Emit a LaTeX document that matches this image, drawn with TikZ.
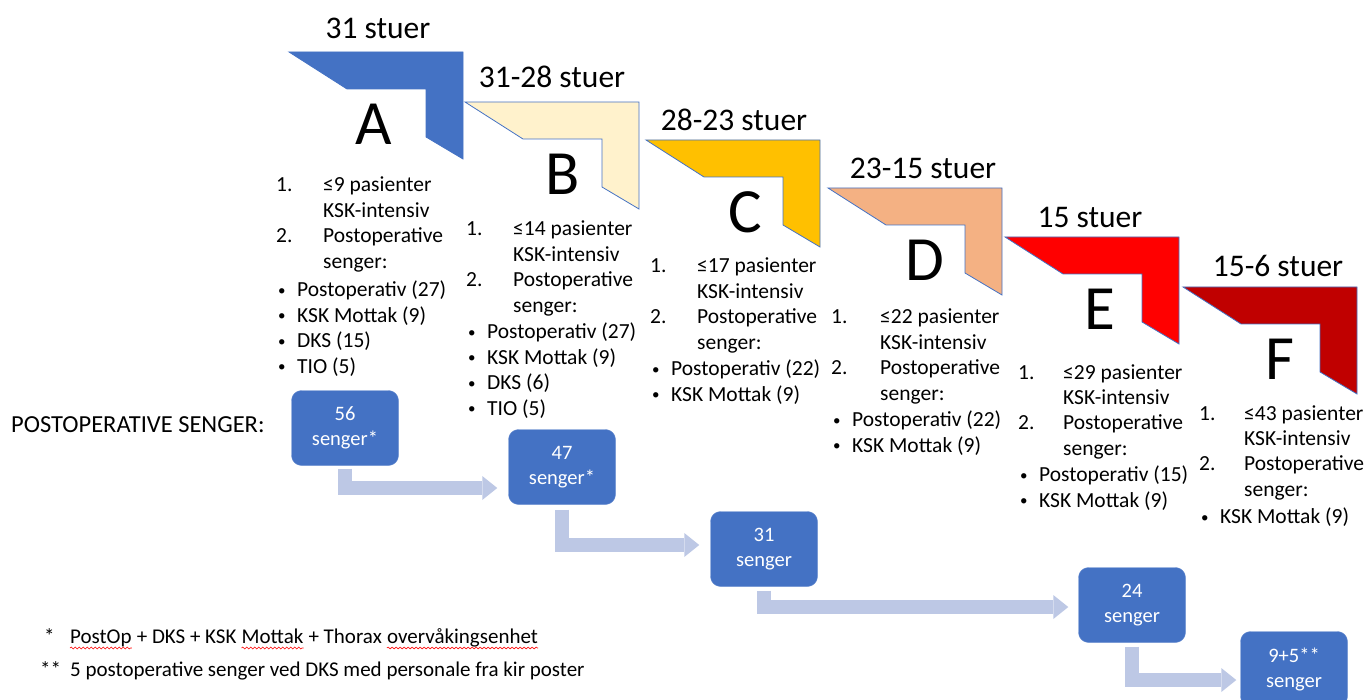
\documentclass[tikz,border=0pt]{standalone}
\usepackage{fontspec}
\setmainfont{Carlito}
\usepackage{array}
\usetikzlibrary{arrows.meta, positioning, calc, decorations.pathmorphing}

\definecolor{levelA}{HTML}{4472C4}
\definecolor{levelB}{HTML}{FFF2CC}
\definecolor{levelC}{HTML}{FFC000}
\definecolor{levelD}{HTML}{F4B183}
\definecolor{levelE}{HTML}{FF0000}
\definecolor{levelF}{HTML}{C00000}
\definecolor{bedblue}{HTML}{4472C4}
\definecolor{flowgray}{HTML}{BDC8E5}

\newcommand{\bulletpt}{\makebox[21pt][l]{\hspace{2pt}\raisebox{1.5pt}{\fontsize{15}{15}\selectfont\textbullet}}}

\tikzset{
  chevron/.style={draw=levelA, line width=0.8pt, line join=miter},
  stagetitle/.style={font=\fontsize{31.5}{36}\selectfont, inner sep=0pt},
  bigletter/.style={font=\fontsize{63}{70}\selectfont, inner sep=0pt},
  listtext/.style={anchor=base west, inner sep=0pt, font=\fontsize{21.5}{25.5}\selectfont},
  bedbox/.style={fill=bedblue, draw=bedblue!80!white, rounded corners=10pt,
    minimum width=107pt, minimum height=75pt, inner sep=0pt,
    text=white, align=center, font=\fontsize{20.5}{25}\selectfont},
  flow/.style={draw=flowgray, line width=14pt, line join=miter,
    -{Triangle[length=15pt, width=24pt, line width=0pt]}},
  note/.style={anchor=base west, inner sep=0pt, font=\fontsize{21}{24}\selectfont},
  spellline/.style={red, line width=0.6pt, decorate,
    decoration={snake, amplitude=0.9pt, segment length=4pt}},
}

\begin{document}
\begin{tikzpicture}[x=1pt, y=-1pt]
  \useasboundingbox (0,0) rectangle (1365,700);

  % ---------- Stages A-F ----------
  \foreach \n/\x/\y/\tx/\ty/\lx/\title in {A/289/52/378/28/374/31 stuer,
      B/465/102/552/77/563/31-28 stuer, C/646/140/734/120/745/28-23 stuer,
      D/828/188/923/168/925/23-15 stuer, E/1005/237/1090/217/1100/15 stuer,
      F/1183/287/1278/266/1280/15-6 stuer} {
    \draw[chevron, fill=level\n] (\x,\y) -- ++(174,0) -- ++(0,107) -- ++(-37,-22)
      -- ++(0,-48) -- ++(-79,0) -- cycle;
    \node[stagetitle] (title\n) at (\tx,\ty) {\title};
    \node[bigletter] (letter\n) at (\lx,\y+72) {\n};
  }

  % ---------- Stage lists ----------
  \node[listtext] (listA) at (276,192) {\begin{tabular}[t]{@{}p{47pt}@{}l@{}}
    1. & ≤9 pasienter\\ & KSK-intensiv\\ 2. & Postoperative\\ & senger:\\[3pt]
    \multicolumn{2}{@{}l@{}}{\bulletpt Postoperativ (27)}\\
    \multicolumn{2}{@{}l@{}}{\bulletpt KSK Mottak (9)}\\
    \multicolumn{2}{@{}l@{}}{\bulletpt DKS (15)}\\
    \multicolumn{2}{@{}l@{}}{\bulletpt TIO (5)}
  \end{tabular}};
  \node[listtext] (listB) at (466,236) {\begin{tabular}[t]{@{}p{47pt}@{}l@{}}
    1. & ≤14 pasienter\\ & KSK-intensiv\\ 2. & Postoperative\\ & senger:\\[1pt]
    \multicolumn{2}{@{}l@{}}{\bulletpt Postoperativ (27)}\\
    \multicolumn{2}{@{}l@{}}{\bulletpt KSK Mottak (9)}\\
    \multicolumn{2}{@{}l@{}}{\bulletpt DKS (6)}\\
    \multicolumn{2}{@{}l@{}}{\bulletpt TIO (5)}
  \end{tabular}};
  \node[listtext] (listC) at (650,273) {\begin{tabular}[t]{@{}p{47pt}@{}l@{}}
    1. & ≤17 pasienter\\ & KSK-intensiv\\ 2. & Postoperative\\ & senger:\\[1pt]
    \multicolumn{2}{@{}l@{}}{\bulletpt Postoperativ (22)}\\
    \multicolumn{2}{@{}l@{}}{\bulletpt KSK Mottak (9)}
  \end{tabular}};
  \node[listtext] (listD) at (831,324) {\begin{tabular}[t]{@{}p{49pt}@{}l@{}}
    1. & ≤22 pasienter\\ & KSK-intensiv\\ 2. & Postoperative\\ & senger:\\[1pt]
    \multicolumn{2}{@{}l@{}}{\bulletpt Postoperativ (22)}\\
    \multicolumn{2}{@{}l@{}}{\bulletpt KSK Mottak (9)}
  \end{tabular}};
  \node[listtext] (listE) at (1018,379) {\begin{tabular}[t]{@{}p{45pt}@{}l@{}}
    1. & ≤29 pasienter\\ & KSK-intensiv\\ 2. & Postoperative\\ & senger:\\[1pt]
    \multicolumn{2}{@{}l@{}}{\bulletpt Postoperativ (15)}\\
    \multicolumn{2}{@{}l@{}}{\bulletpt KSK Mottak (9)}
  \end{tabular}};
  \node[listtext] (listF) at (1199,420) {\begin{tabular}[t]{@{}p{45pt}@{}l@{}}
    1. & ≤43 pasienter\\ & KSK-intensiv\\ 2. & Postoperative\\ & senger:\\[2pt]
    \multicolumn{2}{@{}l@{}}{\bulletpt KSK Mottak (9)}
  \end{tabular}};

  % ---------- Postoperative beds ----------
  \node[anchor=west, inner sep=0pt, font=\fontsize{24.5}{27}\selectfont] (bedlabel) at (11,425) {POSTOPERATIVE SENGER:};
  \node[bedbox] (bed1) at (345,428) {56\\senger*};
  \node[bedbox] (bed2) at (562,467) {47\\senger*};
  \node[bedbox] (bed3) at (764,549) {31\\senger};
  \node[bedbox] (bed4) at (1132,605) {24\\senger};
  \node[bedbox] (bed5) at (1294,669) {9+5**\\senger};

  \draw[flow] ([yshift=-3pt]bed1.south) |- ([xshift=-11pt, yshift=-21pt]bed2.west);
  \draw[flow] ([yshift=-5pt]bed2.south) |- ([xshift=-11pt, yshift=4pt]bed3.west);
  \draw[flow] ([yshift=-4pt]bed3.south) |- ([xshift=-10pt, yshift=-2pt]bed4.west);
  \draw[flow] ([yshift=-4pt]bed4.south) |- ([xshift=-4pt, yshift=-11pt]bed5.west);

  % ---------- Footnotes ----------
  \node[note] (star1) at (44,643) {*};
  \node[note] (word1) at (70,643) {PostOp};
  \node[note] (word2) at (word1.base east) {\ + DKS + KSK\ \mbox{}};
  \node[note] (word3) at (word2.base east) {Mottak};
  \node[note] (word4) at (word3.base east) {\ + Thorax\ \mbox{}};
  \node[note] (word5) at (word4.base east) {overvåkingsenhet};
  \foreach \w in {word1, word3, word5}
    \draw[spellline] ([yshift=-5pt]\w.base west) -- ([yshift=-5pt]\w.base east);
  \node[note] (star2) at (40,676) {**};
  \node[note] (note2) at (70,676) {5 postoperative senger ved DKS med personale fra kir poster};

\end{tikzpicture}
\end{document}
